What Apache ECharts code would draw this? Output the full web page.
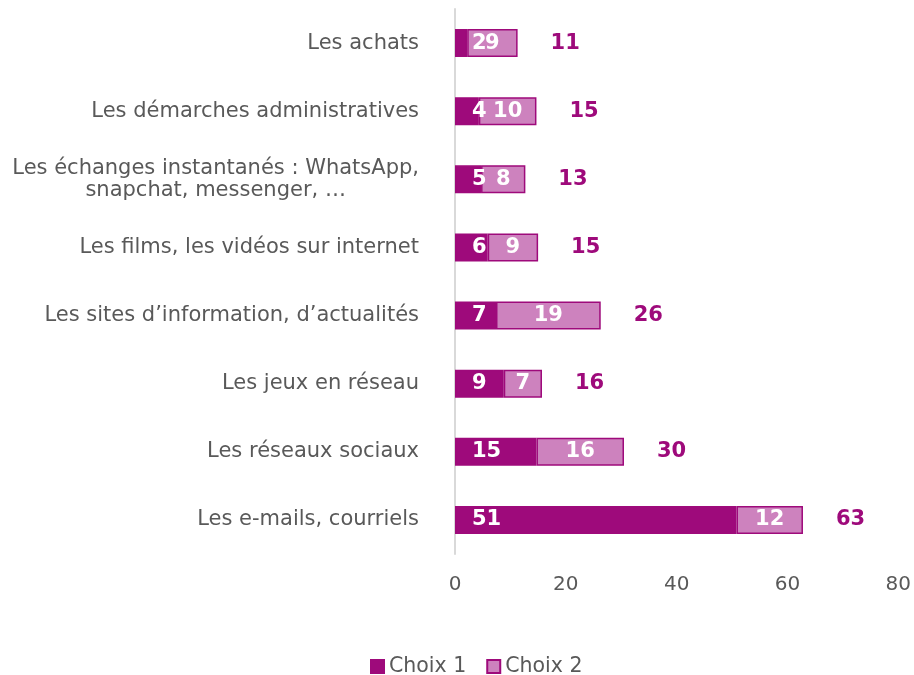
<!DOCTYPE html>
<html>
<head>
<meta charset="utf-8">
<script src="https://cdn.jsdelivr.net/npm/echarts@6/dist/echarts.min.js"></script>
<style>html,body{margin:0;padding:0;background:#fff;}#c{width:914px;height:675px;}</style>
</head>
<body>
<div id="c"></div>
<script>
// Categories listed bottom-to-top
var categories = [
  "Les e-mails, courriels",
  "Les réseaux sociaux",
  "Les jeux en réseau",
  "Les sites d’information, d’actualités",
  "Les films, les vidéos sur internet",
  "Les échanges instantanés : WhatsApp,\nsnapchat, messenger, …",
  "Les démarches administratives",
  "Les achats"
];
var choix1 = [50.8, 14.7, 8.8, 7.4, 5.9, 4.7, 4.3, 2.2];
var choix2 = [12.0, 15.8, 6.9, 18.9, 9.1, 8.0, 10.4, 9.1];
var labels1 = [51, 15, 9, 7, 6, 5, 4, 2];
var labels2 = [12, 16, 7, 19, 9, 8, 10, 9];
var totals = [63, 30, 16, 26, 15, 13, 15, 11];
var xTicks = [0, 20, 40, 60, 80];

var dark = '#9E0A7B', light = '#CD82BE';
var font = "'DejaVu Sans', Verdana, sans-serif";
var chart = echarts.init(document.getElementById('c'));
chart.setOption({
  animation: false,
  grid: {left: 455, right: 15, top: 9, bottom: 121, containLabel: false},
  legend: {
    data: ['Choix 1', 'Choix 2'],
    top: 651, left: 365,
    icon: 'rect', itemWidth: 13, itemHeight: 13, itemGap: 20,
    textStyle: {fontFamily: font, fontSize: 20.5, color: '#595959'}
  },
  xAxis: {
    type: 'value', min: xTicks[0], max: xTicks[xTicks.length-1], interval: 20,
    axisLine: {show: false}, axisTick: {show: false}, splitLine: {show: false},
    axisLabel: {fontFamily: font, fontSize: 20, color: '#595959', margin: 21}
  },
  yAxis: {
    type: 'category', data: categories,
    axisLine: {show: true, lineStyle: {color: '#D9D9D9', width: 2}},
    axisTick: {show: false},
    axisLabel: {
      fontFamily: font, fontSize: 21, color: '#595959', margin: 36, lineHeight: 22,
      formatter: function (v) {
        if (v.indexOf('\n') >= 0) {
          return v.split('\n').map(function (l) { return '{c|' + l + '}'; }).join('\n');
        }
        return v;
      },
      rich: {c: {align: 'center', fontFamily: font, fontSize: 21, color: '#595959', lineHeight: 22}}
    }
  },
  series: [
    {
      name: 'Choix 1', type: 'bar', stack: 't', data: choix1, barWidth: 28,
      itemStyle: {color: dark, borderColor: dark, borderWidth: 1.5},
      label: {show: true, position: 'insideLeft', distance: 17, color: '#fff', fontFamily: font,
        fontWeight: 'bold', fontSize: 21, formatter: function (p) { return labels1[p.dataIndex]; }}
    },
    {
      name: 'Choix 2', type: 'bar', stack: 't', data: choix2, barWidth: 28,
      itemStyle: {color: light, borderColor: dark, borderWidth: 1.5},
      label: {show: true, position: 'inside', color: '#fff', fontFamily: font,
        fontWeight: 'bold', fontSize: 21, formatter: function (p) { return labels2[p.dataIndex]; }}
    },
    {
      name: 'Total', type: 'bar', stack: 't', data: totals.map(function () { return 0; }), barWidth: 28,
      itemStyle: {color: 'rgba(0,0,0,0)'},
      label: {show: true, position: 'right', distance: 33, color: dark, fontFamily: font,
        fontWeight: 'bold', fontSize: 21, formatter: function (p) { return totals[p.dataIndex]; }}
    }
  ]
});
</script>
</body>
</html>
